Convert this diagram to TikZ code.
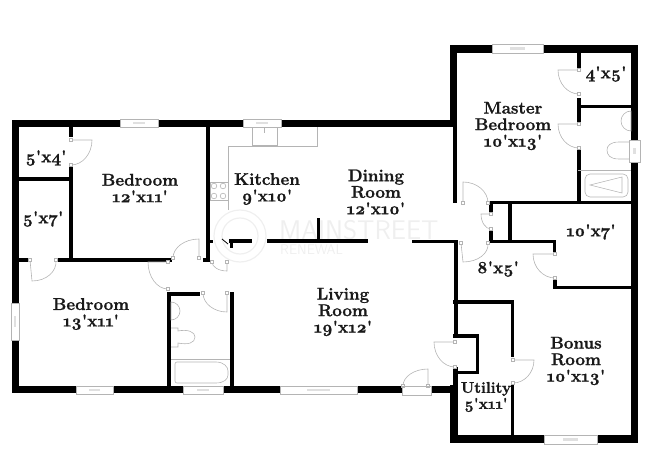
\documentclass[tikz,border=0pt]{standalone}
\usepackage{fontspec}
\setmainfont{Latin Modern Roman}[Numbers=OldStyle,Ligatures=TeXOff,BoldFeatures={FakeBold=1.2}]
\usetikzlibrary{calc}
\definecolor{thinline}{HTML}{B4B4B4}
\definecolor{logogrey}{HTML}{EFEFEF}
\tikzset{
	room/.style={font=\fontsize{17}{16.5}\selectfont\bfseries, align=center, text=black!90, inner sep=0pt},
	fixture/.style={draw=thinline, line width=.6pt},
	logotext/.style={font=\fontsize{27}{27}\selectfont\sffamily, text=logogrey, inner sep=0pt}
}
\newcommand{\wall}[4]{
\fill (#1,#2) rectangle (#3,#4);
}
\newcommand{\window}[4]{
\draw[fixture, fill=white] (#1,#2) rectangle (#3,#4);
\fill[black!12] ($(#1,#2)!.35!(#3,#4)$) rectangle ($(#1,#2)!.65!(#3,#4)$);
}
\newcommand{\door}[3]{
\draw[fixture] (#1) -- (#2) .. controls ($(#2)+.55*(#3)-.55*(#1)$) and ($(#3)+.55*(#2)-.55*(#1)$) .. (#3);
\draw[fixture, fill=white] ($(#1)+(-1.5,-1.5)$) rectangle ($(#1)+(1.5,1.5)$);
\draw[fixture, fill=white] ($(#3)+(-1.5,-1.5)$) rectangle ($(#3)+(1.5,1.5)$);
}
\begin{document}
\begin{tikzpicture}[x=1pt,y=-1pt]
	\useasboundingbox (0,0) rectangle (650,473);
	% watermark
	\draw[logogrey, line width=1.2pt] (240,236) circle (26);
	\draw[logogrey, line width=1.2pt] (240,236) circle (18);
	\node[logotext, anchor=west] (mainstreet) at (279,230) {MAINSTREET};
	\node[logotext, anchor=west, font=\fontsize{14}{14}\selectfont\sffamily\addfontfeature{LetterSpace=18}] (renewal) at (280,250) {RENEWAL};
	% outer walls
	\wall{12}{120}{19}{393}
	\wall{12}{120}{450}{127}
	\wall{450}{45}{457}{127}
	\wall{453}{127}{457}{203}
	\wall{450}{45}{638}{53}
	\wall{631}{45}{638}{443}
	\wall{450}{435}{638}{443}
	\wall{450}{385}{458}{443}
	\wall{12}{386}{402}{393}
	\wall{431}{386}{453}{393}
	% left rooms
	\wall{19}{177}{72}{181}
	\wall{69}{127}{73}{137}
	\wall{69}{167}{73}{262}
	\wall{19}{258}{28}{262}
	\wall{58}{258}{172}{262}
	\wall{203}{258}{209}{262}
	\wall{206}{127}{210}{262}
	% bath
	\wall{167}{292}{171}{393}
	\wall{167}{292}{200}{296}
	\wall{230}{292}{234}{393}
	% middle wall
	\wall{210}{240}{213}{243}
	\wall{229}{239}{252}{243}
	\wall{230}{243}{233}{248}
	\wall{267}{239}{368}{243}
	\wall{412}{240}{458}{243}
	\wall{317}{218}{320}{240}
	\draw[line width=.8pt] (222,239) -- (228,244);
	% master bedroom
	\wall{577}{53}{581}{68}
	\wall{577}{98}{581}{123}
	\wall{577}{148}{581}{203}
	\wall{579}{105}{631}{108}
	\wall{489}{201}{631}{204}
	\wall{489}{201}{493}{214}
	\wall{489}{229}{493}{243}
	\wall{489}{240}{556}{243}
	\wall{508}{203}{512}{241}
	\wall{553}{240}{556}{252}
	\wall{553}{278}{557}{289}
	\wall{553}{286}{631}{289}
	% utility
	\wall{454}{240}{458}{338}
	\wall{453}{300}{514}{304}
	\wall{511}{300}{514}{357}
	\wall{511}{383}{514}{435}
	\wall{453}{334}{479}{338}
	\wall{476}{334}{479}{374}
	\wall{453}{371}{479}{374}
	\wall{453}{367}{458}{386}
	% windows
	\window{120}{119}{158}{127}
	\window{243}{119}{281}{127}
	\window{492}{44}{543}{53}
	\window{629}{140}{640}{162}
	\window{11}{303}{19}{340}
	\window{76}{386}{113}{394}
	\window{183}{386}{223}{394}
	\window{280}{386}{357}{394}
	\window{544}{435}{597}{444}
	% doors
	\door{71,140}{92,140}{71,165}
	\door{30,260}{32,281}{56,260}
	\door{199,258}{199,239}{173,258}
	\door{168,262}{148,262}{168,289}
	\door{227,293}{227,312}{203,293}
	\door{227,262}{227,271}{212,262}
	\door{579,70}{558,70}{579,94}
	\door{579,124}{558,124}{579,148}
	\door{463,203}{463,182}{488,203}
	\door{491,214}{481,214}{491,229}
	\door{461,243}{463,262}{488,243}
	\door{555,254}{533,254}{555,278}
	\door{513,360}{534,360}{513,383}
	\door{455,342}{434,342}{455,367}
	\door{428,386}{428,369}{403,386}
	\draw[fixture] (402,386) rectangle (431,395);
	% kitchen
	\draw[fixture] (228,210) -- (228,146) -- (317,146) -- (317,127);
	\draw[fixture] (252,127) rectangle (277,145);
	\draw[fixture] (210,182) rectangle (228,200);
	\foreach \cx in {214,223}
		\foreach \cy in {186,196}
			\draw[fixture] (\cx,\cy) circle (2.8);
	\draw[fixture] (264,128) -- (264,133);
	% bath fixtures
	\draw[fixture] (171,302) arc (-90:90:9) -- cycle;
	\draw[fixture] (171,328) -- (178,328) -- (178,331) .. controls (188,329) and (195,332) .. (195,337) .. controls (195,343) and (188,345) .. (178,343) -- (178,347) -- (171,347);
	\draw[fixture] (171,359) -- (230,359);
	\draw[fixture, rounded corners=2pt] (175,383) -- (175,362) -- (214,362) .. controls (224,362) and (228,367) .. (228,373) .. controls (228,379) and (224,383) .. (214,383) -- cycle;
	% master bath fixtures
	\draw[fixture] (631,111) arc (-90:-270:10) -- cycle;
	\draw[fixture] (629,142) -- (619,142) .. controls (610,142) and (607,146) .. (607,150) .. controls (607,155) and (610,159) .. (619,159) -- (629,159);
	\draw[fixture] (578,170) -- (631,170);
	\draw[fixture, rounded corners=5pt] (585,174) rectangle (628,197);
	\draw[fixture] (590,185) -- (622,177) -- (622,193) -- cycle;
	% labels
	\node[room] (closetA) at (46,158) {5'x4'};
	\node[room] (closetB) at (43,219) {5'x7'};
	\node[room] (bedroomA) at (140,188) {Bedroom\\12'x11'};
	\node[room] (bedroomB) at (91,314) {Bedroom\\13'x11'};
	\node[room] (kitchen) at (267,189) {Kitchen\\9'x10'};
	\node[room] (dining) at (376,192) {Dining\\Room\\12'x10'};
	\node[room] (living) at (343,312) {Living\\Room\\19'x12'};
	\node[room] (master) at (513,126) {Master\\Bedroom\\10'x13'};
	\node[room] (closetC) at (606,74) {4'x5'};
	\node[room] (closetD) at (591,232) {10'x7'};
	\node[room] (hall) at (498,269) {8'x5'};
	\node[room] (bonus) at (576,361) {Bonus\\Room\\10'x13'};
	\node[room, font=\fontsize{15.5}{16}\selectfont\bfseries] (utility) at (486,397) {Utility\\5'x11'};
\end{tikzpicture}
\end{document}
